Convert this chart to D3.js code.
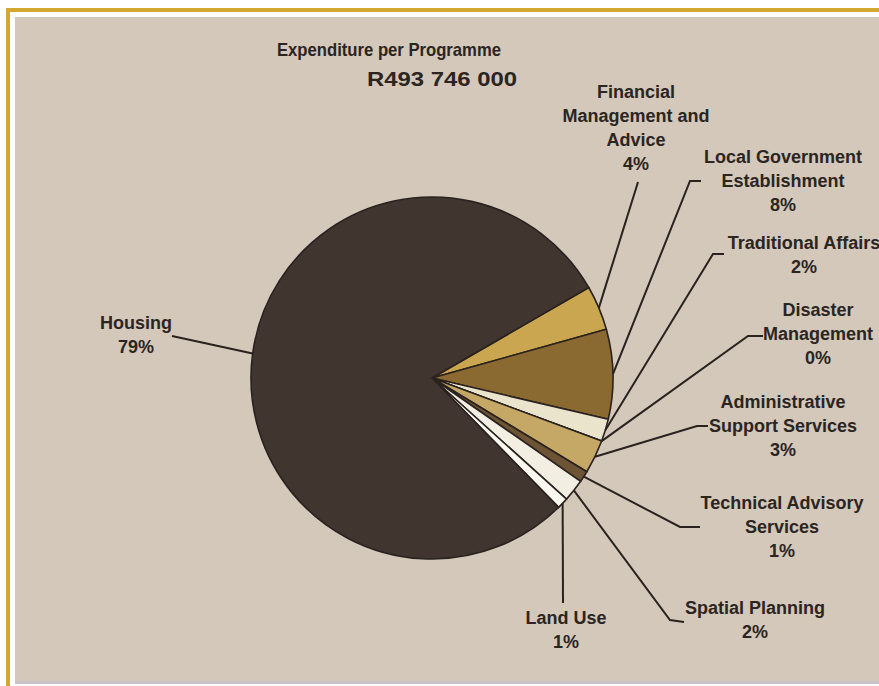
<!DOCTYPE html>
<html>
<head>
<meta charset="utf-8">
<script src="https://cdn.jsdelivr.net/npm/d3@7"></script>
<style>
  html, body { margin: 0; padding: 0; background: #ffffff; }
  svg { display: block; }
  text { font-family: "Liberation Sans", Arial, sans-serif; font-weight: bold; fill: #2b2522; }
</style>
</head>
<body>
<svg id="chart" width="879" height="686"></svg>
<script>
// Programmes, in the order they run clockwise round the pie
const categories = [
  "Financial Management and Advice",
  "Local Government Establishment",
  "Traditional Affairs",
  "Disaster Management",
  "Administrative Support Services",
  "Technical Advisory Services",
  "Spatial Planning",
  "Land Use",
  "Housing"
];
// Share of expenditure, percent
const shares = [4, 8, 2, 0, 3, 1, 2, 1, 79];
// How each label wraps onto lines (the percentage line is added from shares)
const labelLines = [
  ["Financial", "Management and", "Advice"],
  ["Local Government", "Establishment"],
  ["Traditional Affairs"],
  ["Disaster", "Management"],
  ["Administrative", "Support Services"],
  ["Technical Advisory", "Services"],
  ["Spatial Planning"],
  ["Land Use"],
  ["Housing"]
];
const titleLines = ["Expenditure per Programme", "R493 746 000"];

// Styling and layout
const sliceColours = ["#c9a64f", "#8b6a32", "#ebe4cd", "#d9cfb8", "#c5a866", "#6d5434", "#f2eee2", "#faf8f1", "#40352f"];
const centre = { x: 432, y: 378 };
const radius = 181;
const startDeg = 60;
const lineGap = 24;
// Label anchor (centre x, first baseline) and the leader bends from the rim to the label
const labelLayout = [
  { x: 636, y: 98,  leader: [[638, 182]] },
  { x: 783, y: 163, leader: [[690, 181], [701, 181]] },
  { x: 804, y: 249, leader: [[713, 254], [724, 254]] },
  { x: 818, y: 316, leader: [[748, 336], [763, 336]] },
  { x: 783, y: 408, leader: [[697, 426], [708, 426]] },
  { x: 782, y: 509, leader: [[680, 527], [700, 527]] },
  { x: 755, y: 614, leader: [[670, 620], [684, 622]] },
  { x: 566, y: 624, leader: [[563, 603]] },
  { x: 136, y: 329, leader: [[172, 336]] }
];

const svg = d3.select("#chart");

// Frame: gold rule on top and left, beige panel with a grey shadow at the foot
svg.append("rect").attr("x", 15).attr("y", 17).attr("width", 864).attr("height", 664).attr("fill", "#d3c8ba");
svg.append("rect").attr("x", 15).attr("y", 681).attr("width", 864).attr("height", 3).attr("fill", "#c6c4c8");
svg.append("rect").attr("x", 6).attr("y", 8).attr("width", 873).attr("height", 4).attr("fill", "#d4a830");
svg.append("rect").attr("x", 6).attr("y", 8).attr("width", 4).attr("height", 678).attr("fill", "#d4a830");

// Title
svg.append("text").attr("x", 389).attr("y", 56).attr("text-anchor", "middle")
  .attr("font-size", 19).attr("textLength", 224).attr("lengthAdjust", "spacingAndGlyphs")
  .text(titleLines[0]);
svg.append("text").attr("x", 442).attr("y", 86).attr("text-anchor", "middle")
  .attr("font-size", 20).attr("textLength", 150).attr("lengthAdjust", "spacingAndGlyphs")
  .text(titleLines[1]);

const data = categories.map((c, i) => ({ name: c, value: shares[i], i }));
const toRad = d => d * Math.PI / 180;

const pie = d3.pie().sort(null).value(d => d.value)
  .startAngle(toRad(startDeg)).endAngle(toRad(startDeg + 360));
const arcs = pie(data);
const arc = d3.arc().innerRadius(0).outerRadius(radius);

const g = svg.append("g").attr("transform", `translate(${centre.x},${centre.y})`);
g.selectAll("path.slice").data(arcs).enter().append("path")
  .attr("class", "slice")
  .attr("d", arc)
  .attr("fill", d => sliceColours[d.data.i])
  .attr("stroke", "#2a221f")
  .attr("stroke-width", 1.6)
  .attr("stroke-linejoin", "round");

// Leader lines: from the rim at each slice's mid-angle out to its label
const line = d3.line();
arcs.forEach(a => {
  const mid = (a.startAngle + a.endAngle) / 2;
  const rim = [centre.x + radius * Math.sin(mid), centre.y - radius * Math.cos(mid)];
  const pts = [rim].concat(labelLayout[a.data.i].leader);
  svg.append("path").attr("d", line(pts))
    .attr("fill", "none").attr("stroke", "#2a221f").attr("stroke-width", 2);
});

// Labels
arcs.forEach(a => {
  const i = a.data.i;
  const lay = labelLayout[i];
  const lines = labelLines[i].concat([shares[i] + "%"]);
  const t = svg.append("text").attr("text-anchor", "middle").attr("font-size", 18);
  lines.forEach((s, k) => {
    t.append("tspan").attr("x", lay.x).attr("y", lay.y + k * lineGap).text(s);
  });
});
</script>
</body>
</html>
